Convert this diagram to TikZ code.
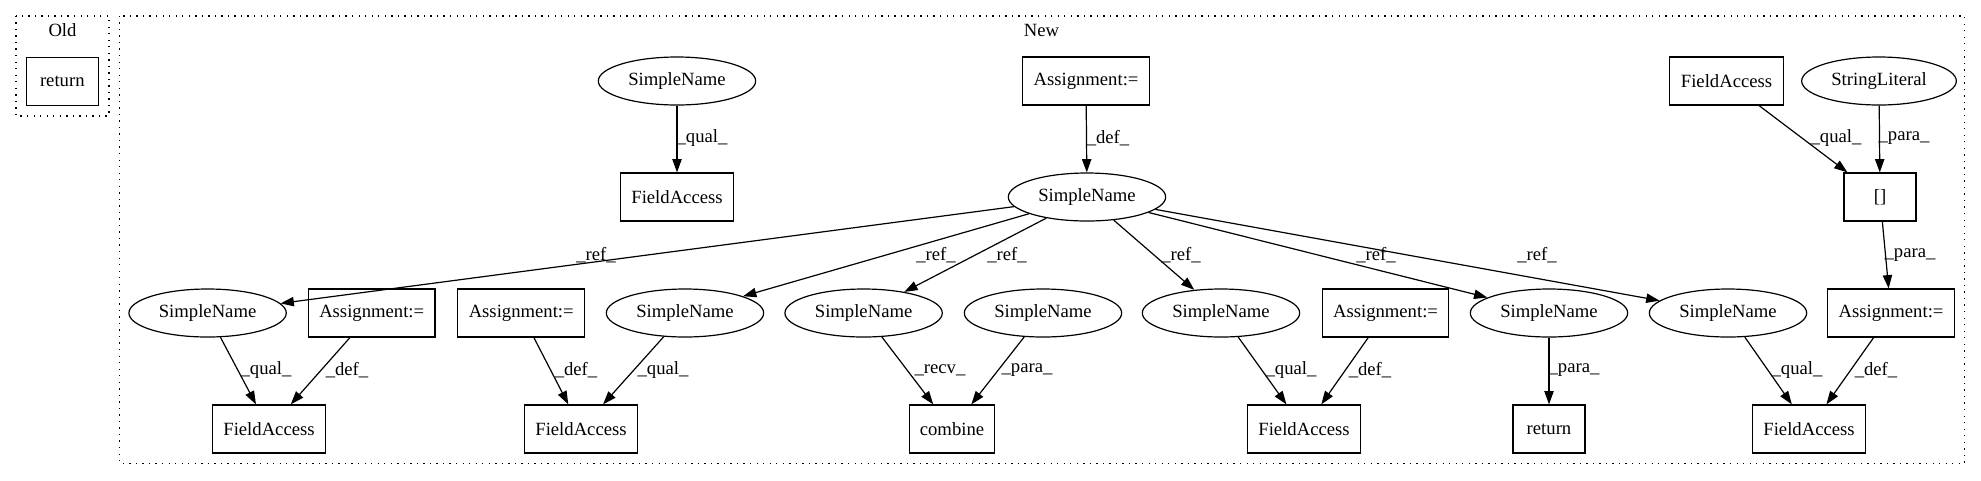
\documentclass[tikz,border=0pt]{standalone}
\usepackage{fontspec}
\setmainfont{Liberation Serif}
\usetikzlibrary{arrows.meta,shapes.geometric}
\begin{document}
\begin{tikzpicture}[x=0.75pt,y=-0.75pt,
  txt/.style={font=\fontsize{14}{16}\selectfont},
  box/.style={txt, draw, rectangle, minimum height=36pt, inner sep=0pt, line width=0.9pt},
  ell/.style={txt, draw, ellipse, minimum width=118pt, minimum height=36pt, inner sep=0pt, line width=0.9pt},
  lbl/.style={txt, inner sep=0pt},
  arr/.style={-{Triangle[length=10pt,width=7pt]}, line width=0.9pt},
  cluster/.style={draw, dash pattern=on 1pt off 3.9pt, line width=1.2pt}]
\useasboundingbox (0,0) rectangle (1981,480);
% clusters
\draw[cluster] (15.8,15.8) rectangle (109,115.7);
\draw[cluster] (119.5,15.8) rectangle (1964.5,463.3);
\node[lbl] (oldlbl) at (62.5,30) {Old};
\node[lbl] (newlbl) at (1041.5,30) {New};
% Old
\node[box, minimum width=54pt] (oret) at (62.3,81.3) {return};
% row 1
\node[ell] (sn1) at (677,81) {SimpleName};
\node[box, minimum width=95pt] (as1) at (1086,81) {Assignment:=};
\node[box, minimum width=85pt] (fa1) at (1726.5,81) {FieldAccess};
\node[ell, minimum width=116pt] (sl) at (1879,81) {StringLiteral};
% row 2
\node[box, minimum width=85pt] (fa2) at (677,197) {FieldAccess};
\node[ell] (snc) at (1087,197) {SimpleName};
\node[box, minimum width=54pt] (br) at (1880,197) {[]};
% row 3
\node[ell] (r3a) at (207.6,313) {SimpleName};
\node[box, minimum width=95pt] (r3b) at (371.7,313) {Assignment:=};
\node[box, minimum width=95pt] (r3c) at (521.2,313) {Assignment:=};
\node[ell] (r3d) at (685,313) {SimpleName};
\node[ell] (r3e) at (863.6,313) {SimpleName};
\node[ell] (r3f) at (1043,313) {SimpleName};
\node[ell] (r3g) at (1221,313) {SimpleName};
\node[box, minimum width=95pt] (r3h) at (1385.5,313) {Assignment:=};
\node[ell] (r3i) at (1549,313) {SimpleName};
\node[ell] (r3j) at (1728,313) {SimpleName};
\node[box, minimum width=95pt] (r3k) at (1891,313) {Assignment:=};
% row 4
\node[box, minimum width=85pt] (r4a) at (269,429) {FieldAccess};
\node[box, minimum width=85pt] (r4b) at (581,429) {FieldAccess};
\node[box, minimum width=64pt] (r4c) at (952,429) {combine};
\node[box, minimum width=85pt] (r4d) at (1304,429) {FieldAccess};
\node[box, minimum width=54pt] (r4e) at (1549,429) {return};
\node[box, minimum width=85pt] (r4f) at (1809,429) {FieldAccess};
% edges row1 -> row2
\draw[arr] (sn1) -- (fa2);
\draw[arr] (as1) -- (snc);
\draw[arr] (fa1) -- (br);
\draw[arr] (sl) -- (br);
\node[lbl] (l1) at (702,138) {\_qual\_};
\node[lbl] (l2) at (1108,138) {\_def\_};
\node[lbl] (l3) at (1836,138) {\_qual\_};
\node[lbl] (l4) at (1904,138) {\_para\_};
% edges row2 -> row3
\draw[arr] (snc) -- (r3a);
\draw[arr] (snc) -- (r3d);
\draw[arr] (snc) -- (r3e);
\draw[arr] (snc) -- (r3g);
\draw[arr] (snc) -- (r3i);
\draw[arr] (snc) -- (r3j);
\draw[arr] (br) -- (r3k);
\node[lbl] (l5) at (596,255) {\_ref\_};
\node[lbl] (l6) at (936,255) {\_ref\_};
\node[lbl] (l7) at (1007,255) {\_ref\_};
\node[lbl] (l8) at (1181,255) {\_ref\_};
\node[lbl] (l9) at (1376,255) {\_ref\_};
\node[lbl] (l10) at (1537,255) {\_ref\_};
\node[lbl] (l11) at (1910,255) {\_para\_};
% edges row3 -> row4
\draw[arr] (r3a) -- (r4a);
\draw[arr] (r3b) -- (r4a);
\draw[arr] (r3c) -- (r4b);
\draw[arr] (r3d) -- (r4b);
\draw[arr] (r3e) -- (r4c);
\draw[arr] (r3f) -- (r4c);
\draw[arr] (r3g) -- (r4d);
\draw[arr] (r3h) -- (r4d);
\draw[arr] (r3i) -- (r4e);
\draw[arr] (r3j) -- (r4f);
\draw[arr] (r3k) -- (r4f);
\node[lbl] (m1) at (266,370) {\_qual\_};
\node[lbl] (m2) at (347,370) {\_def\_};
\node[lbl] (m3) at (576,370) {\_def\_};
\node[lbl] (m4) at (663,370) {\_qual\_};
\node[lbl] (m5) at (940,370) {\_recv\_};
\node[lbl] (m6) at (1027,370) {\_para\_};
\node[lbl] (m7) at (1291,370) {\_qual\_};
\node[lbl] (m8) at (1370,370) {\_def\_};
\node[lbl] (m9) at (1574,370) {\_para\_};
\node[lbl] (m10) at (1797,370) {\_qual\_};
\node[lbl] (m11) at (1876,370) {\_def\_};
\end{tikzpicture}
\end{document}
